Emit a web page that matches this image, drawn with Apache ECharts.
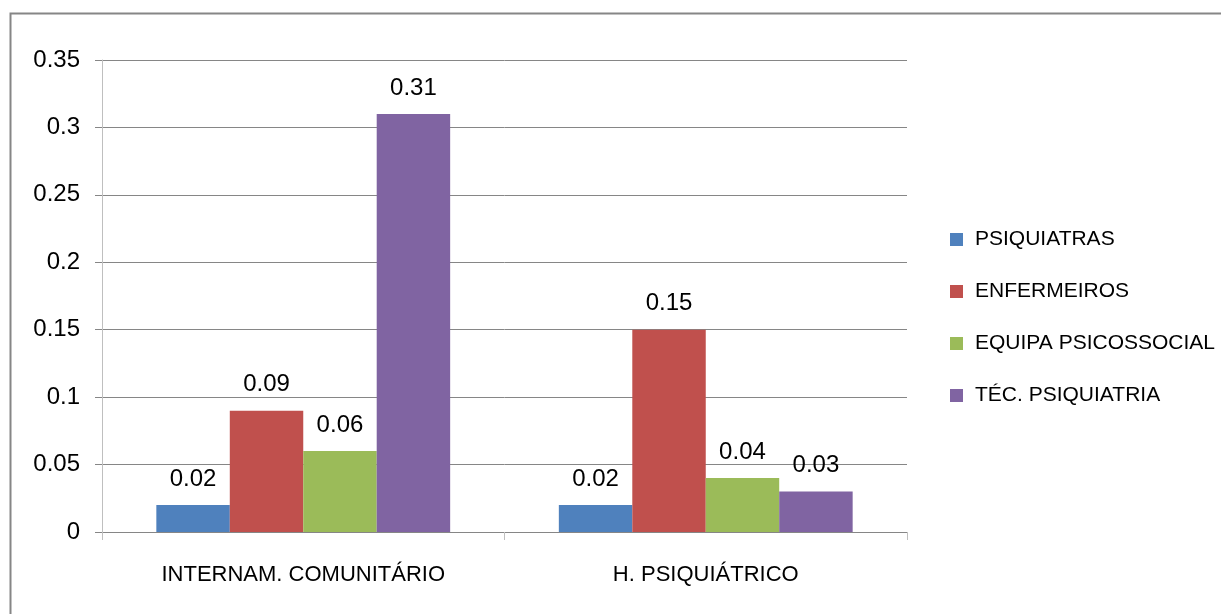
<!DOCTYPE html>
<html>
<head>
<meta charset="utf-8">
<script src="https://cdn.jsdelivr.net/npm/echarts@6/dist/echarts.min.js"></script>
<style>
html, body { margin: 0; padding: 0; background: #fff; }
#chart { width: 1221px; height: 614px; }
</style>
</head>
<body>
<div id="chart"></div>
<script>
const categories = ['INTERNAM. COMUNITÁRIO', 'H. PSIQUIÁTRICO'];
const seriesNames = ['PSIQUIATRAS', 'ENFERMEIROS', 'EQUIPA PSICOSSOCIAL', 'TÉC. PSIQUIATRIA'];
const psiquiatras = [0.02, 0.02];
const enfermeiros = [0.09, 0.15];
const equipaPsicossocial = [0.06, 0.04];
const tecPsiquiatria = [0.31, 0.03];
const colors = ['#4F81BD', '#C0504D', '#9BBB59', '#8064A2'];

const FONT = '"Liberation Sans Narrow", "Liberation Sans", Arial, sans-serif';
const values = [psiquiatras, enfermeiros, equipaPsicossocial, tecPsiquiatria];

const chart = echarts.init(document.getElementById('chart'), null, { renderer: 'canvas' });
chart.setOption({
  animation: false,
  backgroundColor: '#ffffff',
  textStyle: { fontFamily: FONT },
  graphic: [{
    type: 'rect',
    shape: { x: 10.5, y: 13.5, width: 1400, height: 800 },
    style: { fill: 'none', stroke: '#868686', lineWidth: 2 },
    silent: true,
    z: -1
  }],
  grid: { left: 102, right: 314, top: 60, bottom: 82, containLabel: false },
  legend: {
    orient: 'vertical',
    left: 950,
    top: 229,
    padding: 0,
    itemWidth: 13,
    itemHeight: 13,
    itemGap: 31,
    icon: 'rect',
    textStyle: { fontFamily: FONT, fontSize: 21, color: '#000', padding: [0, 0, 0, 7] },
    data: seriesNames
  },
  xAxis: {
    type: 'category',
    data: categories,
    axisLine: { show: true, lineStyle: { color: '#868686', width: 1 } },
    axisTick: { show: true, length: 8, lineStyle: { color: '#bfbfbf' } },
    axisLabel: { fontFamily: FONT, fontSize: 22, color: '#000', margin: 32 },
    splitLine: { show: false }
  },
  yAxis: {
    type: 'value',
    min: 0,
    max: 0.35,
    interval: 0.05,
    axisLine: { show: true, lineStyle: { color: '#bfbfbf', width: 1 } },
    axisTick: { show: true, length: 7, lineStyle: { color: '#868686' } },
    axisLabel: {
      fontFamily: FONT, fontSize: 24, color: '#000', margin: 22,
      formatter: v => String(parseFloat(v.toFixed(2)))
    },
    splitLine: { show: true, lineStyle: { color: '#868686', width: 1 } }
  },
  series: seriesNames.map((name, i) => ({
    name: name,
    type: 'bar',
    data: values[i],
    barGap: '0%',
    barCategoryGap: '27%',
    itemStyle: { color: colors[i] },
    label: {
      show: true,
      position: 'top',
      distance: 14,
      fontFamily: FONT,
      fontSize: 24,
      color: '#000',
      formatter: p => String(p.value)
    }
  }))
});
</script>
</body>
</html>
